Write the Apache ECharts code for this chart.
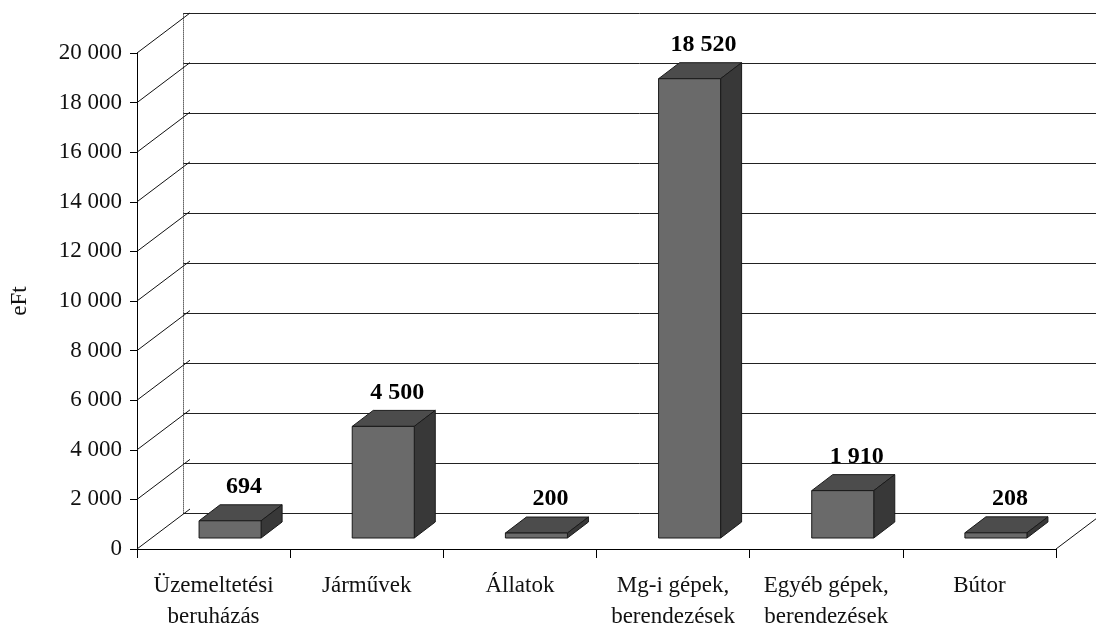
<!DOCTYPE html>
<html>
<head>
<meta charset="utf-8">
<script src="https://cdn.jsdelivr.net/npm/echarts@6/dist/echarts.min.js"></script>
<style>
  html, body { margin: 0; padding: 0; background: #fff; }
  #chart { width: 1096px; height: 632px; }
</style>
</head>
<body>
<div id="chart"></div>
<script>
  // kategóriák és értékek (eFt)
  var categories = ['Üzemeltetési\nberuházás', 'Járművek', 'Állatok', 'Mg-i gépek,\nberendezések', 'Egyéb gépek,\nberendezések', 'Bútor'];
  var values = [694, 4500, 200, 18520, 1910, 208];
  var yTicks = [0, 2000, 4000, 6000, 8000, 10000, 12000, 14000, 16000, 18000, 20000];

  // perspektíva: hátsó fal eltolása és az oszlop mélysége
  var DX = 53, DY = -40;
  var BAR_DX = 21, BAR_DY = -16;
  var FONT = '"Liberation Serif", "DejaVu Serif", serif';

  function fmt(v) {
    return String(v).replace(/\B(?=(\d{3})+(?!\d))/g, ' ');
  }

  var chart = echarts.init(document.getElementById('chart'));

  chart.setOption({
    backgroundColor: '#fff',
    animation: false,
    grid: [
      {left: 130, top: 53, width: 926, height: 500},
      {left: 130 + DX, top: 53 + DY, width: 926, height: 500}
    ],
    xAxis: [
      {
        gridIndex: 0,
        type: 'category',
        data: categories,
        axisLine: {lineStyle: {color: '#000', width: 1}},
        axisTick: {show: true, length: 9, lineStyle: {color: '#000'}},
        axisLabel: {
          color: '#111', fontFamily: FONT, fontSize: 23,
          lineHeight: 31, margin: 21, interval: 0
        },
        splitLine: {show: false}
      },
      {
        gridIndex: 1,
        type: 'category',
        data: categories,
        show: false
      }
    ],
    yAxis: [
      {
        gridIndex: 0,
        type: 'value',
        min: 0, max: 20000, interval: 2000,
        name: 'eFt',
        nameLocation: 'middle',
        nameRotate: 90,
        nameGap: 106,
        nameTextStyle: {color: '#111', fontFamily: FONT, fontSize: 23},
        axisLine: {show: true, lineStyle: {color: '#000', width: 1}},
        axisTick: {show: true, length: 7, lineStyle: {color: '#000'}},
        axisLabel: {
          color: '#111', fontFamily: FONT, fontSize: 23, margin: 15,
          formatter: function (v) { return fmt(v); }
        },
        splitLine: {show: false}
      },
      {
        gridIndex: 1,
        type: 'value',
        min: 0, max: 20000, interval: 2000,
        axisLine: {show: true, lineStyle: {color: '#666', width: 1, type: 'dotted'}},
        axisTick: {show: false},
        axisLabel: {show: false},
        splitLine: {show: true, lineStyle: {color: '#222', width: 1}}
      }
    ],
    series: [
      {
        // oldalfal átlós vonalai
        type: 'custom',
        xAxisIndex: 0, yAxisIndex: 0,
        silent: true,
        data: yTicks.map(function (v) { return [0, v]; }),
        renderItem: function (params, api) {
          var cs = params.coordSys;
          var p = api.coord([0, api.value(1)]);
          return {
            type: 'line',
            shape: {x1: cs.x, y1: p[1], x2: cs.x + DX, y2: p[1] + DY},
            style: {stroke: '#111', lineWidth: 1}
          };
        }
      },
      {
        // padló jobb oldali éle
        type: 'custom',
        xAxisIndex: 0, yAxisIndex: 0,
        silent: true,
        data: [[categories.length - 1, 0]],
        renderItem: function (params, api) {
          var cs = params.coordSys;
          var p = api.coord([0, 0]);
          return {
            type: 'line',
            shape: {x1: cs.x + cs.width, y1: p[1], x2: cs.x + cs.width + DX, y2: p[1] + DY},
            style: {stroke: '#111', lineWidth: 1}
          };
        }
      },
      {
        // 3D oszlopok
        type: 'custom',
        xAxisIndex: 0, yAxisIndex: 0,
        data: values.map(function (v, i) { return [i, v]; }),
        renderItem: function (params, api) {
          var i = api.value(0), v = api.value(1);
          var base = api.coord([i, 0]);
          var top = api.coord([i, v]);
          var band = api.size([1, 0])[0];
          var w = band * 0.405;
          var x0 = base[0] - w / 2 + 16.5, x1 = x0 + w;
          var yb = base[1] - 11, yt = top[1] - 11;
          var edge = {stroke: '#1a1a1a', lineWidth: 1};
          return {
            type: 'group',
            children: [
              {
                type: 'polygon',
                shape: {points: [[x0, yt], [x1, yt], [x1 + BAR_DX, yt + BAR_DY], [x0 + BAR_DX, yt + BAR_DY]]},
                style: Object.assign({fill: '#4c4c4c'}, edge)
              },
              {
                type: 'polygon',
                shape: {points: [[x1, yt], [x1 + BAR_DX, yt + BAR_DY], [x1 + BAR_DX, yb + BAR_DY], [x1, yb]]},
                style: Object.assign({fill: '#383838'}, edge)
              },
              {
                type: 'rect',
                shape: {x: x0, y: yt, width: w, height: yb - yt},
                style: Object.assign({fill: '#6a6a6a'}, edge)
              },
              {
                type: 'text',
                x: x0 + w / 2 + 14,
                y: yt + BAR_DY - 18,
                style: {
                  text: fmt(v), fill: '#000',
                  font: 'bold 24px ' + FONT,
                  align: 'center', verticalAlign: 'middle'
                }
              }
            ]
          };
        }
      }
    ]
  });
</script>
</body>
</html>
